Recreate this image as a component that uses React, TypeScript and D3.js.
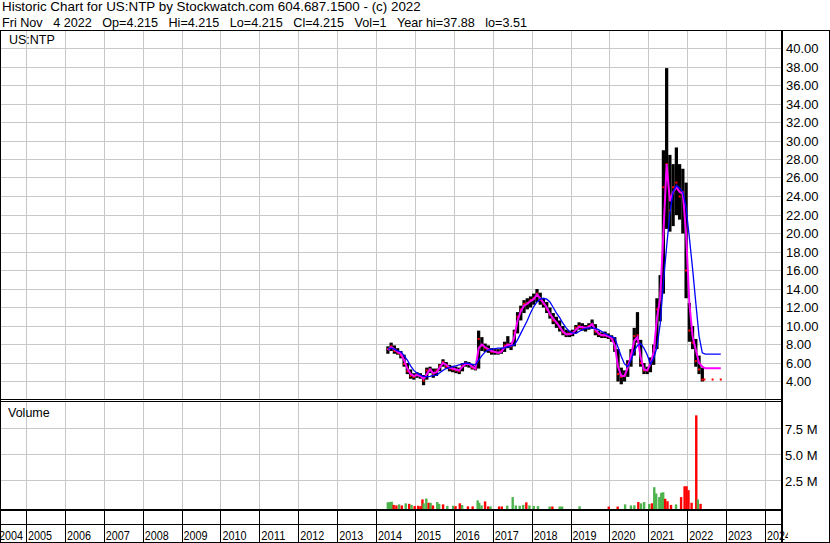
import React from "react";
import * as d3 from "d3";

// ---------- DATA (monthly, starting April 2014) ----------
const FIRST_YEAR = 2014;
const FIRST_MONTH = 3; // April (0-based)

const priceHigh = [
  7.8, 8.2, 7.9, 7.6, 7.3, 6.9, 6.0, 5.3, 4.9, // 2014 Apr-Dec
  5.0, 4.9, 4.7, 5.5, 5.6, 5.4, 5.4, 5.9, 6.4, 6.1, 5.8, 5.7, // 2015
  5.6, 5.5, 6.0, 6.2, 6.1, 5.9, 5.7, 9.5, 8.8, 8.1, 7.9, 7.6, // 2016
  7.5, 7.5, 7.6, 8.3, 8.9, 8.2, 9.6, 11.5, 12.2, 12.8, 13.0, 13.2, // 2017
  13.5, 14.0, 13.6, 13.0, 12.6, 12.0, 11.4, 11.0, 10.6, 10.0, 9.6, 9.5, // 2018
  9.6, 10.1, 10.4, 10.3, 10.1, 10.3, 10.7, 10.2, 9.5, 9.3, 9.4, 9.2, // 2019
  9.0, 8.8, 7.5, 5.5, 5.2, 6.3, 7.5, 9.8, 11.5, 8.5, 6.0, 5.6, // 2020
  6.6, 8.0, 13.0, 15.5, 29.0, 37.88, 28.5, 27.5, 29.3, 27.5, 27.0, 25.5, // 2021
  12.5, 10.0, 8.6, 6.8, 5.5, // 2022 Jan-May
];
const priceLow = [
  7.0, 7.3, 7.0, 6.9, 6.5, 5.6, 4.8, 4.3, 4.2,
  4.4, 4.3, 3.6, 4.2, 4.9, 4.4, 4.6, 5.1, 5.6, 5.4, 5.1, 5.0,
  4.9, 4.8, 5.1, 5.6, 5.5, 5.3, 5.2, 5.4, 7.3, 7.2, 7.1, 6.9,
  6.9, 6.9, 7.0, 7.2, 7.6, 7.4, 7.8, 9.2, 10.6, 11.4, 11.8, 12.0,
  12.3, 12.6, 12.3, 12.0, 11.4, 10.8, 10.2, 9.8, 9.4, 9.0, 8.8, 8.8,
  8.9, 9.2, 9.6, 9.5, 9.4, 9.6, 9.7, 9.0, 8.8, 8.7, 8.7, 8.6,
  8.3, 7.2, 4.0, 3.7, 4.0, 4.5, 5.6, 6.8, 8.2, 5.6, 4.8, 4.8,
  5.0, 5.8, 7.5, 10.5, 13.5, 20.5, 20.2, 20.8, 22.0, 21.5, 20.0, 13.0,
  8.3, 7.5, 5.6, 4.8, 4.0,
];
const priceClose = [
  7.5, 7.8, 7.3, 7.1, 6.8, 5.9, 5.1, 4.6, 4.5,
  4.8, 4.6, 4.1, 5.2, 5.3, 4.7, 5.2, 5.7, 6.1, 5.6, 5.4, 5.3,
  5.2, 5.1, 5.8, 6.0, 5.9, 5.5, 5.4, 8.6, 7.9, 7.6, 7.4, 7.2,
  7.2, 7.1, 7.3, 7.9, 8.0, 7.8, 9.3, 11.0, 11.8, 12.4, 12.5, 12.8,
  13.0, 13.5, 12.8, 12.4, 11.8, 11.2, 10.6, 10.3, 9.8, 9.3, 9.1, 9.2,
  9.3, 9.8, 10.0, 9.8, 9.8, 10.0, 10.2, 9.4, 9.1, 9.0, 9.0, 8.9,
  8.6, 7.6, 4.8, 4.5, 4.6, 5.8, 7.0, 8.9, 9.0, 6.0, 5.2, 5.2,
  6.1, 7.5, 11.8, 13.5, 25.0, 27.5, 22.5, 25.0, 25.5, 24.0, 24.5, 16.0,
  9.5, 8.2, 6.2, 5.3, 4.2,
];
const maShort = [
  7.4, 7.7, 7.5, 7.2, 7.0, 6.3, 5.4, 4.8, 4.6,
  4.7, 4.6, 4.3, 4.8, 5.3, 4.9, 5.0, 5.5, 6.0, 5.8, 5.5, 5.4,
  5.3, 5.2, 5.6, 5.9, 5.9, 5.6, 5.4, 7.6, 8.0, 7.7, 7.5, 7.3,
  7.2, 7.1, 7.2, 7.7, 8.0, 7.9, 8.8, 10.6, 11.6, 12.2, 12.4, 12.7,
  12.9, 13.4, 13.0, 12.5, 12.0, 11.3, 10.8, 10.4, 9.9, 9.4, 9.1, 9.1,
  9.2, 9.6, 9.9, 9.9, 9.8, 9.9, 10.2, 9.6, 9.2, 9.0, 9.0, 8.9,
  8.7, 7.9, 5.6, 4.6, 4.6, 5.5, 6.8, 8.4, 8.8, 6.6, 5.3, 5.2,
  5.9, 7.2, 10.8, 13.0, 20.0, 27.5, 23.5, 24.5, 25.0, 24.5, 24.3, 20.0,
  12.5, 8.9, 7.4, 6.0, 5.6,
];
const maLong = [
  7.5, 7.6, 7.5, 7.3, 7.2, 6.8, 6.3, 5.7, 5.2,
  4.9, 4.7, 4.55, 4.5, 4.55, 4.65, 4.7, 4.95, 5.2, 5.4, 5.5, 5.6,
  5.7, 5.8, 5.9, 6.0, 5.95, 5.85, 5.8, 6.3, 6.8, 7.2, 7.4, 7.5,
  7.55, 7.6, 7.6, 7.65, 7.75, 7.85, 7.95, 8.5, 9.2, 9.9, 10.6, 11.4,
  12.1, 12.6, 12.9, 13.0, 12.9, 12.6, 12.0, 11.4, 10.9, 10.3, 9.8, 9.4,
  9.25, 9.2, 9.4, 9.6, 9.75, 9.8, 9.8, 9.75, 9.6, 9.4, 9.2, 9.0,
  8.85, 8.7, 7.7, 6.7, 5.9, 5.6, 6.3, 7.3, 7.9, 8.1, 7.6, 6.9,
  5.9, 6.5, 7.7, 10.2, 14.7, 18.6, 22.2, 24.5, 25.2, 24.9, 24.5, 22.8,
  19.6, 16.2, 12.5, 8.9, 7.1,
];
// sparse trades after May 2022
const tailDates = [2022.43, 2022.64, 2022.85];
const tailClose = [4.215, 4.215, 4.215];
const maTailDates = [2022.45, 2022.85];
const maShortTail = [5.43, 5.43];
const maLongTail = [6.97, 6.97];

// volume (millions)
const volDates = [
  2014.29, 2014.34, 2014.39, 2014.44, 2014.51, 2014.58, 2014.65, 2014.75, 2014.84, 2014.9, 2014.98,
  2015.07, 2015.13, 2015.18, 2015.21, 2015.28, 2015.34, 2015.39, 2015.45, 2015.56, 2015.61, 2015.71, 2015.82, 2015.97,
  2016.03, 2016.14, 2016.2, 2016.35, 2016.47, 2016.6, 2016.64, 2016.7, 2016.79, 2016.87, 2016.93,
  2017.15, 2017.22, 2017.36, 2017.5, 2017.58, 2017.68, 2017.77, 2017.85, 2017.93,
  2018.04, 2018.15, 2018.45, 2018.52, 2018.71, 2018.77,
  2019.22, 2019.97,
  2020.2, 2020.39, 2020.54, 2020.63, 2020.73, 2020.8, 2020.88,
  2021.01, 2021.08, 2021.14, 2021.19, 2021.27, 2021.32, 2021.37, 2021.42, 2021.48, 2021.57, 2021.7, 2021.83, 2021.92, 2021.97,
  2022.02, 2022.1, 2022.22, 2022.26, 2022.33,
];
const volValues = [
  0.45, 0.47, 0.5, 0.2, 0.15, 0.25, 0.15, 0.35, 0.3, 0.2, 0.1,
  0.12, 0.08, 0.72, 0.35, 0.8, 0.4, 0.4, 0.15, 0.47, 0.3, 0.25, 0.1, 0.12,
  0.08, 0.35, 0.19, 0.06, 0.06, 0.63, 0.4, 0.15, 0.53, 0.06, 0.06,
  0.05, 0.05, 0.13, 0.94, 0.15, 0.12, 0.2, 0.44, 0.15,
  0.1, 0.08, 0.05, 0.05, 0.05, 0.05,
  0.06, 0.04,
  0.04, 0.25, 0.15, 0.16, 0.47, 0.35, 0.47,
  0.28, 0.35, 1.88, 1.28, 0.94, 1.35, 1.4, 0.78, 0.55, 0.2, 0.25, 0.94, 1.97, 1.97,
  1.6, 0.4, 8.7, 0.72, 0.3,
];
const volUp = [
  1, 1, 1, 0, 0, 1, 0, 1, 0, 1, 0,
  0, 0, 0, 1, 1, 0, 1, 0, 1, 1, 0, 1, 1,
  0, 0, 1, 0, 0, 1, 1, 1, 0, 0, 1,
  0, 0, 1, 1, 1, 1, 1, 0, 1,
  1, 1, 1, 0, 1, 1,
  1, 0,
  0, 1, 1, 1, 0, 1, 1,
  1, 0, 1, 1, 1, 1, 1, 0, 0, 0, 1, 0, 0, 0,
  0, 0, 0, 1, 0,
];

const yearTicks = d3.range(2004, 2025);
const priceTicks = d3.range(4, 41, 2);
const volTicks = [2.5, 5, 7.5];

const GAP = "\u00a0\u00a0\u00a0";
const HEADER1 = "Historic Chart for US:NTP by Stockwatch.com 604.687.1500 - (c) 2022";
const HEADER2 = [
  "Fri Nov" + GAP + "4 2022",
  "Op=4.215",
  "Hi=4.215",
  "Lo=4.215",
  "Cl=4.215",
  "Vol=1",
  "Year hi=37.88",
  "lo=3.51",
].join(GAP);

// ---------- LAYOUT ----------
const W = 830;
const H = 543;
const AXIS_X = 782;
const FONT = "'Liberation Sans', Arial, sans-serif";
const GRID = "#c8c8c8";

const x = d3.scaleLinear().domain([2005, 2024]).range([26.5, 765.5]);
const yP = d3.scaleLinear().domain([4, 40]).range([381.5, 48.5]);
const yV = d3.scaleLinear().domain([0, 7.5]).range([507, 428]);

const snap = (v: number) => Math.floor(v) + 0.5;
const monthStart = (i: number) => FIRST_YEAR + (FIRST_MONTH + i) / 12;

export default function App() {
  const mid = priceClose.map((_, i) => monthStart(i) + 1 / 24);
  const shortPts: [number, number][] = mid
    .map((t, i) => [x(t), yP(maShort[i])] as [number, number])
    .concat(maTailDates.map((t, i) => [x(t), yP(maShortTail[i])] as [number, number]));
  const longPts: [number, number][] = mid
    .map((t, i) => [x(t), yP(maLong[i])] as [number, number])
    .concat(maTailDates.map((t, i) => [x(t), yP(maLongTail[i])] as [number, number]));
  const line = d3.line();

  return (
    <svg
      width={W}
      height={H}
      style={{ position: "absolute", left: 0, top: 0, display: "block" }}
      fontFamily={FONT}
    >
      <defs>
        <clipPath id="cp-price">
          <rect x={1} y={31} width={AXIS_X - 2} height={368} />
        </clipPath>
        <clipPath id="cp-vol">
          <rect x={1} y={402} width={AXIS_X - 2} height={107} />
        </clipPath>
        <clipPath id="cp-axis">
          <rect x={0} y={511} width={AXIS_X + 6} height={32} />
        </clipPath>
      </defs>
      <rect x={0} y={0} width={W} height={H} fill="#fff" />

      {/* header */}
      <text x={2} y={11} fontSize={13.4} fill="#000">
        {HEADER1}
      </text>
      <text x={2} y={27} fontSize={13.4} textLength={525} lengthAdjust="spacingAndGlyphs" fill="#000">
        {HEADER2}
      </text>

      {/* price panel grid */}
      <g clipPath="url(#cp-price)">
        {yearTicks.map((yr) => (
          <line key={"pv" + yr} x1={snap(x(yr))} x2={snap(x(yr))} y1={31} y2={399} stroke={GRID} />
        ))}
        {priceTicks.map((p) => (
          <line key={"ph" + p} x1={1} x2={AXIS_X} y1={snap(yP(p))} y2={snap(yP(p))} stroke={GRID} />
        ))}
        {/* high-low bars */}
        {priceHigh.map((h, i) => {
          const x0 = x(monthStart(i));
          const x1 = x(monthStart(i + 1));
          return (
            <rect
              key={"b" + i}
              x={x0}
              y={yP(h)}
              width={Math.max(1, x1 - x0)}
              height={Math.max(1, yP(priceLow[i]) - yP(h))}
              fill="#000"
            />
          );
        })}
        {/* close marks */}
        {priceClose.map((c, i) => (
          <rect key={"c" + i} x={x(mid[i]) - 1} y={yP(c) - 1} width={2} height={2} fill="#ff0000" />
        ))}
        {tailClose.map((c, i) => (
          <rect key={"tc" + i} x={x(tailDates[i]) - 1} y={yP(c) - 1} width={2} height={2} fill="#ff0000" />
        ))}
        <path d={line(shortPts) || ""} fill="none" stroke="#ff00ff" strokeWidth={2} />
        <path d={line(longPts) || ""} fill="none" stroke="#0000ff" strokeWidth={1.3} />
      </g>
      <text x={9} y={44} fontSize={12.5} fill="#000">
        US:NTP
      </text>

      {/* volume panel */}
      <g clipPath="url(#cp-vol)">
        {yearTicks.map((yr) => (
          <line key={"vv" + yr} x1={snap(x(yr))} x2={snap(x(yr))} y1={402} y2={509} stroke={GRID} />
        ))}
        {volTicks.map((v) => (
          <line key={"vh" + v} x1={1} x2={AXIS_X} y1={snap(yV(v))} y2={snap(yV(v))} stroke={GRID} />
        ))}
        {volDates.map((t, i) => (
          <rect
            key={"v" + i}
            x={x(t) - 1.2}
            y={yV(volValues[i])}
            width={2.4}
            height={yV(0) + 2 - yV(volValues[i])}
            fill={volUp[i] ? "#4db34d" : "#ff0000"}
          />
        ))}
      </g>
      <text x={8} y={417} fontSize={12.5} fill="#000">
        Volume
      </text>

      {/* time axis band */}
      <g clipPath="url(#cp-axis)">
        {yearTicks.map((yr) => (
          <line key={"ta" + yr} x1={snap(x(yr))} x2={snap(x(yr))} y1={510} y2={543} stroke="#000" />
        ))}
        {yearTicks.map((yr) => (
          <text
            key={"tl" + yr}
            x={Math.max(x(yr) + 1.5, -1)}
            y={539.5}
            fontSize={13}
            textLength={24}
            lengthAdjust="spacingAndGlyphs"
            fill="#000"
          >
            {yr}
          </text>
        ))}
      </g>
      <line x1={0} x2={AXIS_X} y1={524.5} y2={524.5} stroke="#000" />

      {/* frame */}
      <line x1={0} x2={W} y1={30.5} y2={30.5} stroke="#000" />
      <line x1={0} x2={AXIS_X} y1={399.5} y2={399.5} stroke="#000" />
      <line x1={0} x2={AXIS_X} y1={401.5} y2={401.5} stroke="#000" />
      <line x1={0} x2={AXIS_X} y1={510} y2={510} stroke="#000" strokeWidth={2} />
      <line x1={AXIS_X} x2={AXIS_X} y1={30} y2={H} stroke="#000" strokeWidth={2} />
      <line x1={0.5} x2={0.5} y1={30} y2={H} stroke="#000" />
      <line x1={W - 0.5} x2={W - 0.5} y1={30} y2={H} stroke="#000" />
      <line x1={0} x2={W} y1={H - 0.5} y2={H - 0.5} stroke="#000" />

      {/* right axis labels */}
      {priceTicks.map((p) => (
        <text key={"pl" + p} x={786} y={snap(yP(p)) + 4} fontSize={13} fill="#000">
          {p.toFixed(2)}
        </text>
      ))}
      {volTicks.map((v) => (
        <text key={"vl" + v} x={785} y={snap(yV(v)) + 5.5} fontSize={13} fill="#000">
          {v.toFixed(1) + " M"}
        </text>
      ))}
    </svg>
  );
}
